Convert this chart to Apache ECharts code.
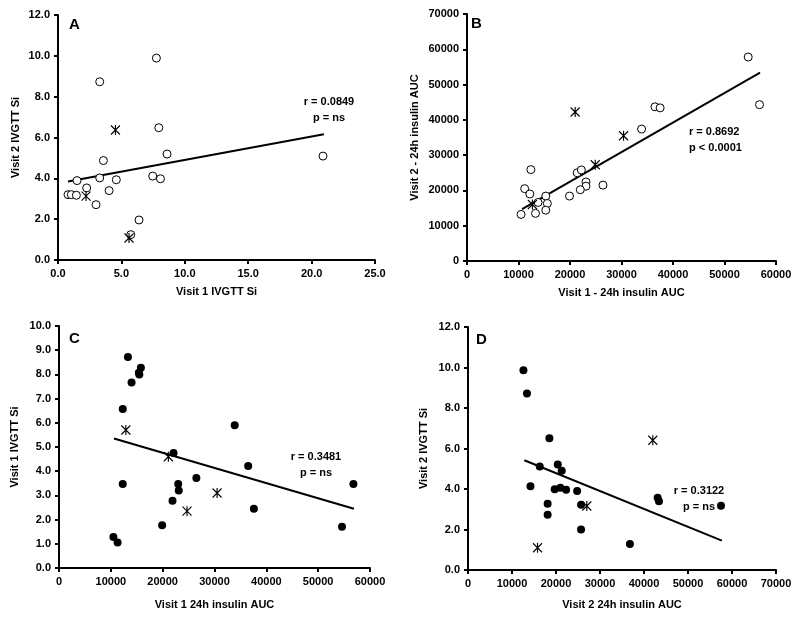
<!DOCTYPE html>
<html><head><meta charset="utf-8">
<script src="https://cdn.jsdelivr.net/npm/echarts@6/dist/echarts.min.js"></script>
<style>html,body{margin:0;padding:0;background:#fff}#c{width:800px;height:617px}</style>
</head><body><div id="c"></div>
<script>
// Panel A: Visit 1 IVGTT Si vs Visit 2 IVGTT Si
const aCircX = [7.76,3.29,7.95,8.6,20.9,3.58,7.47,8.08,4.6,3.29,1.5,2.26,4.03,0.79,1.05,1.45,3.0,6.39,5.74];
const aCircY = [9.89,8.73,6.48,5.19,5.09,4.87,4.11,3.98,3.93,4.02,3.89,3.53,3.40,3.2,3.2,3.17,2.71,1.96,1.24];
const aStarX = [4.53,2.21,5.6];
const aStarY = [6.37,3.13,1.08];
const aLineX = [0.79,20.97];
const aLineY = [3.84,6.16];
// Panel B: Visit 1 vs Visit 2 24h insulin AUC
const bCircX = [54600,56800,36500,37500,33900,12400,21400,22200,23100,26400,23100,22000,11200,12200,15300,19900,15600,13800,15300,13300,10500];
const bCircY = [57800,44300,43700,43400,37400,25900,25000,25800,22400,21500,21200,20200,20500,19000,18400,18400,16300,16600,14400,13500,13200];
const bStarX = [21000,30400,24900,12700];
const bStarY = [42200,35500,27300,16000];
const bLineX = [10700,56900];
const bLineY = [14700,53400];
// Panel C: Visit 1 24h insulin AUC vs Visit 1 IVGTT Si
const cDotX = [13300,15800,15400,15500,14000,12300,12300,10500,11300,22100,23000,23100,21900,19900,26500,33900,36500,37600,54600,56800];
const cDotY = [8.72,8.27,8.07,8.0,7.67,6.57,3.47,1.28,1.05,4.75,3.47,3.2,2.78,1.77,3.72,5.9,4.22,2.45,1.7,3.47];
const cStarX = [12900,21100,24700,30500];
const cStarY = [5.7,4.6,2.35,3.1];
const cLineX = [10600,56900];
const cLineY = [5.35,2.45];
// Panel D: Visit 2 24h insulin AUC vs Visit 2 IVGTT Si
const dDotX = [12600,13400,18500,16300,20400,21300,14200,19700,21000,22300,24800,18100,25700,18100,25700,36800,43100,43400,57500];
const dDotY = [9.86,8.71,6.51,5.11,5.21,4.90,4.13,3.99,4.06,3.96,3.90,3.27,3.22,2.73,2.0,1.28,3.57,3.40,3.17];
const dStarX = [42000,27000,15800];
const dStarY = [6.41,3.16,1.1];
const dLineX = [12800,57700];
const dLineY = [5.42,1.45];

const panelLabels = ['A','B','C','D'];
const statR = ['r = 0.0849','r = 0.8692','r = 0.3481','r = 0.3122'];
const statP = ['p = ns','p < 0.0001','p = ns','p = ns'];
const xNames = ['Visit 1 IVGTT Si','Visit 1 - 24h insulin AUC','Visit 1 24h insulin AUC','Visit 2 24h insulin AUC'];
const yNames = ['Visit 2 IVGTT Si','Visit 2 - 24h insulin AUC','Visit 1 IVGTT Si','Visit 2 IVGTT Si'];

const FONT = 'Liberation Sans, Arial, sans-serif';
const zip = (xs, ys) => xs.map((x, i) => [x, ys[i]]);
const STAR = 'path://M10,0L10,20M3,1L17,19M3,19L17,1';

const grids = [
  {left:58, top:15, width:317, height:245},
  {left:467, top:14, width:309, height:247},
  {left:59, top:326, width:311, height:242},
  {left:468, top:327, width:308, height:243}
];
const xCfg = [
  {min:0,max:25,interval:5,fmt:v=>v.toFixed(1),gap:26},
  {min:0,max:60000,interval:10000,fmt:v=>String(v),gap:26},
  {min:0,max:60000,interval:10000,fmt:v=>String(v),gap:31},
  {min:0,max:70000,interval:10000,fmt:v=>String(v),gap:29}
];
const yCfg = [
  {min:0,max:12,interval:2,fmt:v=>v.toFixed(1),gap:37},
  {min:0,max:70000,interval:10000,fmt:v=>String(v),gap:47},
  {min:0,max:10,interval:1,fmt:v=>v.toFixed(1),gap:39},
  {min:0,max:12,interval:2,fmt:v=>v.toFixed(1),gap:39}
];

function axisCommon(c, name) {
  return {
    type:'value', min:c.min, max:c.max, interval:c.interval,
    name:name, nameLocation:'middle', nameGap:c.gap,
    nameTextStyle:{fontFamily:FONT, fontWeight:'bold', fontSize:11, color:'#000'},
    axisLine:{show:true, onZero:false, lineStyle:{color:'#000', width:2}},
    axisTick:{show:true, length:4, lineStyle:{color:'#000', width:2}},
    axisLabel:{formatter:c.fmt, fontFamily:FONT, fontWeight:'bold', fontSize:11, color:'#000', margin:8},
    splitLine:{show:false}
  };
}

const openCircle = {color:'#fff', borderColor:'#000', borderWidth:1, opacity:1};
const filledDot = {color:'#000', borderColor:'#000', borderWidth:0, opacity:1};
const starStyle = {color:'rgba(0,0,0,0)', borderColor:'#000', borderWidth:1.2, opacity:1};

const sets = [
  {pts:zip(aCircX,aCircY), style:openCircle, stars:zip(aStarX,aStarY), line:zip(aLineX,aLineY)},
  {pts:zip(bCircX,bCircY), style:openCircle, stars:zip(bStarX,bStarY), line:zip(bLineX,bLineY)},
  {pts:zip(cDotX,cDotY), style:filledDot, stars:zip(cStarX,cStarY), line:zip(cLineX,cLineY)},
  {pts:zip(dDotX,dDotY), style:filledDot, stars:zip(dStarX,dStarY), line:zip(dLineX,dLineY)}
];

const series = [];
sets.forEach((s, i) => {
  series.push({type:'line', xAxisIndex:i, yAxisIndex:i, data:s.line, symbol:'none',
    lineStyle:{color:'#000', width:2}, silent:true, z:2});
  series.push({type:'scatter', xAxisIndex:i, yAxisIndex:i, data:s.pts, symbol:'circle',
    symbolSize:8, itemStyle:s.style, z:3});
  series.push({type:'scatter', xAxisIndex:i, yAxisIndex:i, data:s.stars, symbol:STAR,
    symbolSize:[9,10], itemStyle:starStyle, z:4});
});

const labelPos = [[69,17],[471,16],[69,331],[476,332]];
const statPos = [[329,94],[689,124],[316,449],[699,483]];
const statAlign = ['center','left','center','center'];
const graphic = [];
panelLabels.forEach((t, i) => {
  graphic.push({type:'text', left:labelPos[i][0], top:labelPos[i][1],
    style:{text:t, font:'bold 15px ' + FONT, fill:'#000'}});
  const al = statAlign[i];
  graphic.push({type:'text', x:statPos[i][0], y:statPos[i][1],
    style:{text:statR[i] + '\n' + statP[i], font:'bold 11px ' + FONT, fill:'#000',
      align:al, lineHeight:16}});
});

const chart = echarts.init(document.getElementById('c'), null, {renderer:'canvas'});
chart.setOption({
  backgroundColor:'#fff',
  animation:false,
  grid:grids,
  xAxis:xCfg.map((c,i)=>Object.assign(axisCommon(c, xNames[i]), {gridIndex:i})),
  yAxis:yCfg.map((c,i)=>Object.assign(axisCommon(c, yNames[i]), {gridIndex:i})),
  series:series,
  graphic:graphic
});
</script></body></html>
